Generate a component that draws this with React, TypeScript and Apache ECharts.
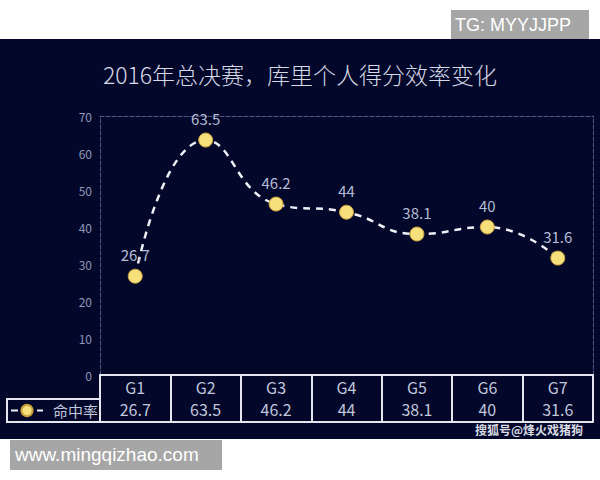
import { useEffect, useRef } from 'react';
import * as echarts from 'echarts';

// chart data
const games = ['G1', 'G2', 'G3', 'G4', 'G5', 'G6', 'G7'];
const fgRate = [26.7, 63.5, 46.2, 44, 38.1, 40, 31.6];
const seriesName = '命中率';
const titleText = '2016年总决赛，库里个人得分效率变化';

const FONT = '"Noto Sans CJK SC", "Noto Sans", sans-serif';
const TABLE_LINE = '#e4e7f0';
const BORDER = '#4f5784';

export default function App() {
    const chartRef = useRef<HTMLDivElement>(null);

    useEffect(() => {
        if (!chartRef.current) return;
        const chart = echarts.init(chartRef.current, null, { renderer: 'svg' });

        const option = {
            animation: false,
            backgroundColor: '#ffffff',
            textStyle: { fontFamily: FONT },
            title: {
                text: titleText,
                left: 'center',
                top: 57,
                textStyle: { color: '#d6dae6', fontSize: 23, fontWeight: 300, fontFamily: FONT },
            },
            legend: {
                left: 10,
                top: 403,
                padding: 0,
                itemWidth: 32,
                itemHeight: 14,
                textStyle: { color: '#c0c6dc', fontSize: 15, padding: [0, 0, 0, 5] },
                data: [seriesName],
            },
            grid: { left: 100, right: 7, top: 116, bottom: 105 },
            xAxis: [
                {
                    // table header row + vertical cell lines
                    type: 'category',
                    position: 'bottom',
                    data: games,
                    axisLine: { show: true, lineStyle: { color: TABLE_LINE, width: 2 } },
                    axisTick: { show: true, interval: 0, length: 47, lineStyle: { color: TABLE_LINE, width: 2 } },
                    axisLabel: { color: '#c0c6dc', fontSize: 16, margin: 4, interval: 0 },
                },
                {
                    // value row
                    type: 'category',
                    position: 'bottom',
                    offset: 24,
                    data: games,
                    axisLine: { show: true, lineStyle: { color: TABLE_LINE, width: 2 } },
                    axisTick: { show: false },
                    axisLabel: {
                        color: '#c0c6dc',
                        fontSize: 16,
                        margin: 2,
                        interval: 0,
                        formatter: (_v: string, i: number) => String(fgRate[i]),
                    },
                },
                {
                    // bottom line of table
                    type: 'category',
                    position: 'bottom',
                    offset: 47,
                    data: games,
                    axisLine: { show: true, lineStyle: { color: TABLE_LINE, width: 2 } },
                    axisTick: { show: false },
                    axisLabel: { show: false },
                },
                {
                    // dashed top border
                    type: 'category',
                    position: 'top',
                    data: games,
                    axisLine: { show: true, lineStyle: { color: BORDER, type: 'dashed', width: 1 } },
                    axisTick: { show: false },
                    axisLabel: { show: false },
                },
            ],
            yAxis: [
                {
                    type: 'value',
                    min: 0,
                    max: 70,
                    interval: 10,
                    axisLine: { show: true, lineStyle: { color: BORDER, type: 'dashed', width: 1 } },
                    axisTick: { show: false },
                    splitLine: { show: false },
                    axisLabel: { color: '#8f97b8', fontSize: 12, margin: 8 },
                },
                {
                    type: 'value',
                    position: 'right',
                    min: 0,
                    max: 70,
                    interval: 10,
                    axisLine: { show: true, lineStyle: { color: BORDER, type: 'dashed', width: 1 } },
                    axisTick: { show: false },
                    splitLine: { show: false },
                    axisLabel: { show: false },
                },
            ],
            series: [
                {
                    name: seriesName,
                    type: 'line',
                    xAxisIndex: 0,
                    yAxisIndex: 0,
                    data: fgRate,
                    smooth: true,
                    symbol: 'circle',
                    symbolSize: 14,
                    itemStyle: { color: '#f6e07c', borderColor: '#c9a040', borderWidth: 1 },
                    lineStyle: { color: '#eef0f6', width: 2.5, type: [7, 6] },
                    label: {
                        show: true,
                        position: 'top',
                        distance: 7,
                        color: '#b4bcd6',
                        fontSize: 15,
                    },
                },
            ],
            graphic: [
                // dark panel
                { type: 'rect', z: -10, shape: { x: 0, y: 39, width: 600, height: 400 }, style: { fill: '#03072a' } },
                // legend cell of the table
                {
                    type: 'polyline',
                    shape: { points: [[100, 399], [7, 399], [7, 422], [100, 422]] },
                    style: { stroke: TABLE_LINE, lineWidth: 2, fill: 'none' },
                },
                {
                    type: 'text',
                    right: 17,
                    top: 423,
                    style: {
                        text: '搜狐号@烽火戏猪狗',
                        fill: '#d8dae2',
                        font: `bold 12px ${FONT}`,
                    },
                },
                // watermark boxes
                { type: 'rect', shape: { x: 451, y: 10, width: 138, height: 29 }, style: { fill: '#a6a6a6' } },
                {
                    type: 'text',
                    x: 455,
                    y: 25,
                    style: {
                        text: 'TG: MYYJJPP',
                        fill: '#ffffff',
                        font: '18px "Liberation Sans", Arial, sans-serif',
                        verticalAlign: 'middle',
                    },
                },
                { type: 'rect', shape: { x: 10, y: 440, width: 212, height: 30 }, style: { fill: '#a6a6a6' } },
                {
                    type: 'text',
                    x: 15,
                    y: 454,
                    style: {
                        text: 'www.mingqizhao.com',
                        fill: '#ffffff',
                        font: '19px "Liberation Sans", Arial, sans-serif',
                        verticalAlign: 'middle',
                    },
                },
            ],
        };

        chart.setOption(option);

        return () => {
            chart.dispose();
        };
    }, []);

    return (
        <div
            ref={chartRef}
            style={{ position: 'absolute', left: 0, top: 0, width: '600px', height: '480px' }}
        />
    );
}
